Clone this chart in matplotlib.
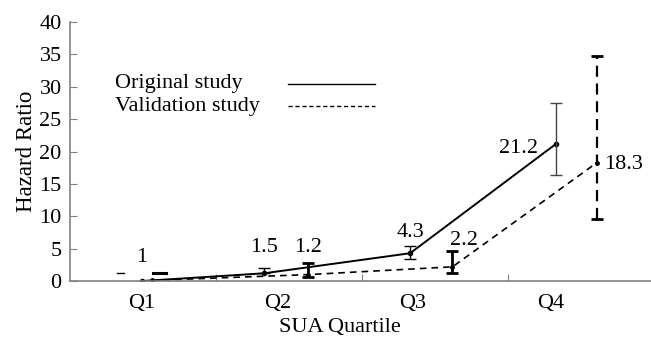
import numpy as np
import matplotlib.pyplot as plt

plt.rcParams['font.family'] = ['Liberation Serif', 'DejaVu Serif']

# category labels and hazard ratios as printed
quartiles = ['Q1', 'Q2', 'Q3', 'Q4']
orig_labels = ['1', '1.5', '4.3', '21.2']
valid_labels = ['', '1.2', '2.2', '18.3']

# positions of the drawn points (x in category units, y in HR)
orig_x = [0.49, 1.33, 2.33, 3.33]
orig_y = [0.0, 1.2, 4.3, 21.2]
orig_lo = [0.0, 1.2, 3.4, 16.4]
orig_hi = [0.0, 2.0, 5.4, 27.5]

valid_x = [0.56, 1.63, 2.62, 3.61]
valid_y = [0.1, 1.0, 2.2, 18.3]
valid_lo = [0.1, 0.6, 1.2, 9.6]
valid_hi = [0.1, 2.8, 4.6, 34.7]

fs = 16

fig = plt.figure(figsize=(6.51, 3.47), dpi=100)
ax = fig.add_axes([0.1075, 0.19, 0.897, 0.7464])

ax.plot(orig_x, orig_y, color='black', lw=1.4, marker='o', ms=3)
ax.plot(valid_x, valid_y, color='black', lw=1.2, ls=(0, (4, 3)), marker='o', ms=2.5)

# error bars: original thin, validation thick
for i in range(1, 4):
    c = '#444444' if i == 3 else 'black'
    ax.errorbar(orig_x[i], orig_y[i],
                yerr=[[orig_y[i] - orig_lo[i]], [orig_hi[i] - orig_y[i]]],
                fmt='none', ecolor=c, elinewidth=1.0, capsize=4, capthick=1.0)
    eb = ax.errorbar(valid_x[i], valid_y[i],
                     yerr=[[valid_y[i] - valid_lo[i]], [valid_hi[i] - valid_y[i]]],
                     fmt='none', ecolor='black', elinewidth=2.0, capsize=4, capthick=2.0)
    if i == 3:
        eb[2][0].set_linestyle((0, (5, 3)))
        eb[2][0].set_linewidth(1.6)

# stray caps near Q1
ax.plot([0.32, 0.37], [1.2, 1.2], color='black', lw=1)
ax.plot([0.57, 0.66], [1.2, 1.2], color='black', lw=2.2)

label_pos_orig = [(0.49, 3.7), (1.33, 5.2), (2.33, 7.5), (3.07, 20.5)]
label_pos_valid = [None, (1.63, 5.2), (2.70, 6.3), (3.79, 18.0)]
for (x, y), t in zip(label_pos_orig, orig_labels):
    ax.text(x, y, t, ha='center', va='center', fontsize=fs)
for p, t in zip(label_pos_valid, valid_labels):
    if p is not None:
        ax.text(p[0], p[1], t, ha='center', va='center', fontsize=fs)

# legend drawn as text with sample lines
ax.text(0.31, 30.5, 'Original study', ha='left', va='center', fontsize=fs)
ax.text(0.31, 27.0, 'Validation study', ha='left', va='center', fontsize=fs)
ax.plot([1.49, 2.09], [30.5, 30.5], color='black', lw=1.0)
ax.plot([1.49, 2.09], [27.0, 27.0], color='black', lw=1.0, ls=(0, (3, 2)))

ax.set_xlim(0, 4)
ax.set_ylim(0, 40)
ax.set_yticks(np.arange(0, 41, 5))
ax.set_xticks([1, 2, 3])
ax.set_xticklabels([])
ax.tick_params(axis='y', labelsize=fs, length=5, color='#808080', direction='in', pad=6)
ax.tick_params(axis='x', length=5, color='#808080', direction='in')
for i, q in enumerate(quartiles):
    ax.text([0.49, 1.42, 2.35, 3.29][i], -3.4, q, ha='center', va='center', fontsize=fs)

for s in ['top', 'right']:
    ax.spines[s].set_visible(False)
for s in ['left', 'bottom']:
    ax.spines[s].set_color('#808080')
    ax.spines[s].set_linewidth(1.2)

ax.set_ylabel('Hazard Ratio', fontsize=16.5, labelpad=2)
fig.text(0.522, 0.055, 'SUA Quartile', ha='center', va='center', fontsize=fs)

fig.savefig('out.png', dpi=100)
